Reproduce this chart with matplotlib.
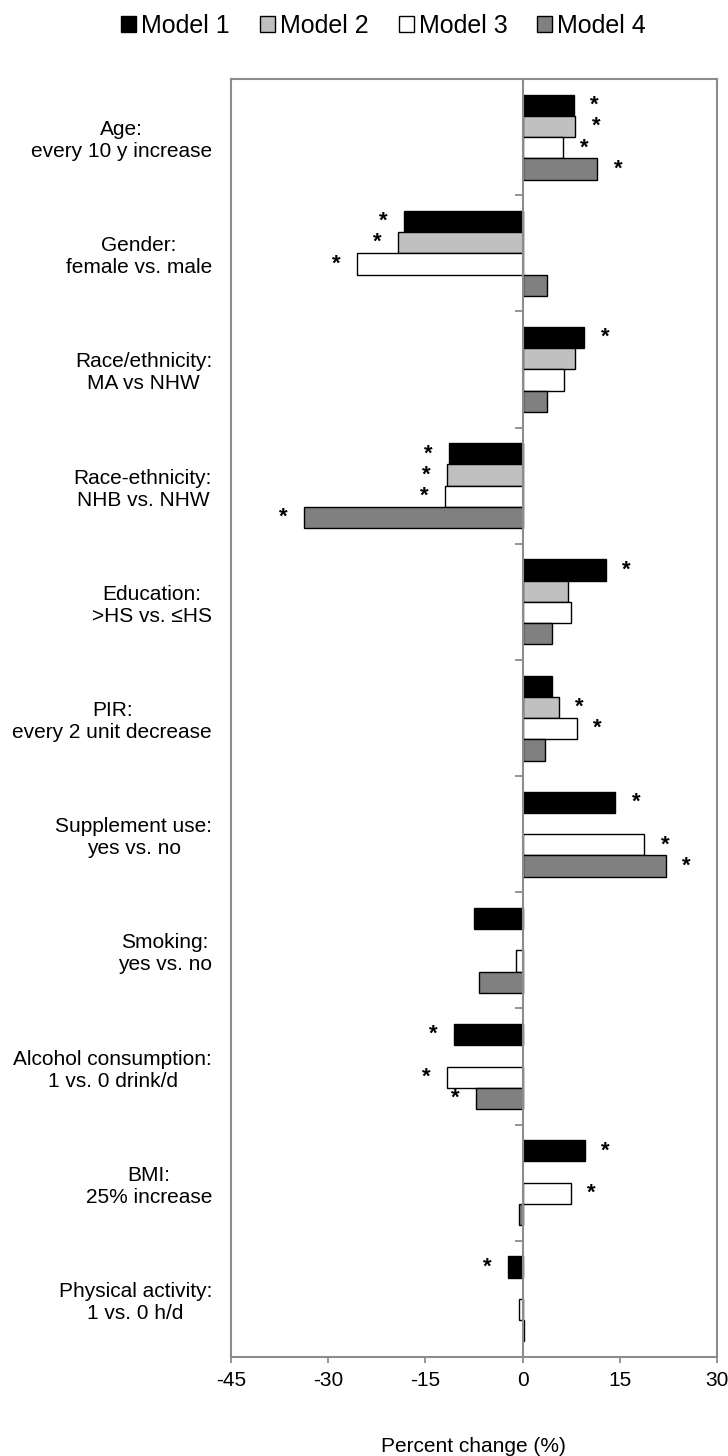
import numpy as np
import matplotlib
matplotlib.use("Agg")
import matplotlib.pyplot as plt
from matplotlib.patches import Patch

plt.rcParams['font.family'] = ['Liberation Sans', 'DejaVu Sans']

# categories (top to bottom)
categories = [
    "Age:\nevery 10 y increase",
    "Gender:\nfemale vs. male",
    "Race/ethnicity:\nMA vs NHW",
    "Race-ethnicity:\nNHB vs. NHW",
    "Education:\n>HS vs. \u2264HS",
    "PIR:\nevery 2 unit decrease",
    "Supplement use:\nyes vs. no",
    "Smoking:\nyes vs. no",
    "Alcohol consumption:\n1 vs. 0 drink/d",
    "BMI:\n25% increase",
    "Physical activity:\n1 vs. 0 h/d",
]

model_names = ["Model 1", "Model 2", "Model 3", "Model 4"]

# percent change per model (nan = not shown)
model1 = [7.9, -18.3, 9.5, -11.4, 12.8, 4.6, 14.3, -7.5, -10.5, 9.6, -2.3]
model2 = [8.1, -19.2, 8.1, -11.7, 7.0, 5.6, np.nan, np.nan, np.nan, np.nan, np.nan]
model3 = [6.3, -25.6, 6.4, -12.0, 7.4, 8.4, 18.8, -1.0, -11.7, 7.4, -0.6]
model4 = [11.5, 3.8, 3.7, -33.7, 4.6, 3.4, 22.1, -6.7, -7.2, -0.6, 0.2]

# significance markers (*)
sig1 = [1, 1, 1, 1, 1, 0, 1, 0, 1, 1, 1]
sig2 = [1, 1, 0, 1, 0, 1, 0, 0, 0, 0, 0]
sig3 = [1, 1, 0, 1, 0, 1, 1, 0, 1, 1, 0]
sig4 = [1, 0, 0, 1, 0, 0, 1, 0, 1, 0, 0]

colors = ["#000000", "#c0c0c0", "#ffffff", "#808080"]
series = [model1, model2, model3, model4]
sigs = [sig1, sig2, sig3, sig4]

frame_gray = "#8c8c8c"

fig = plt.figure(figsize=(7.28, 14.56), dpi=100)
ax = fig.add_axes([0.317, 0.068, 0.668, 0.8777])

n = len(categories)
y = np.arange(n)
h = 0.183

for i, (vals, sig, c) in enumerate(zip(series, sigs, colors)):
    vals = np.array(vals, dtype=float)
    pos = y - 1.5 * h + i * h
    ok = ~np.isnan(vals)
    ax.barh(pos[ok], vals[ok], height=h, color=c, edgecolor="black",
            linewidth=1.0, zorder=2)
    for p, v, s in zip(pos, vals, sig):
        if s and not np.isnan(v):
            xs = v + 3.2 if v > 0 else v - 3.2
            ax.text(xs, p, "*", ha="center", va="center", fontsize=16,
                    fontweight="bold", zorder=4)

# zero line with category tick marks
ax.axvline(0, color=frame_gray, lw=1.5, zorder=3)
bounds = np.arange(n - 1) + 0.5
ax.plot(np.zeros(len(bounds)), bounds, ls="none", marker=0, markersize=6,
        mew=1.3, color=frame_gray, zorder=3)

ax.set_xlim(-45, 30)
ax.set_ylim(n - 0.5, -0.5)
ax.set_xticks([-45, -30, -15, 0, 15, 30])
ax.set_xticklabels(["-45", "-30", "-15", "0", "15", "30"])
ax.set_yticks(y)
ax.set_yticklabels(categories, ma="center")
ax.tick_params(axis="y", length=0, pad=13.5, labelsize=15)
ax.tick_params(axis="x", direction="out", length=4, width=1.3,
               color=frame_gray, pad=6, labelsize=15)

for sp in ax.spines.values():
    sp.set_color(frame_gray)
    sp.set_linewidth(1.5)

ax.set_xlabel("Percent change (%)", fontsize=15, labelpad=34)

handles = [Patch(facecolor=c, edgecolor="black", linewidth=1.0) for c in colors]
fig.legend(handles, model_names, loc="upper center", bbox_to_anchor=(0.527, 1.006),
           ncol=4, frameon=False, fontsize=18, handlelength=0.6, handleheight=0.6,
           handletextpad=0.2, columnspacing=1.2)

fig.savefig("out.png", dpi=100)
